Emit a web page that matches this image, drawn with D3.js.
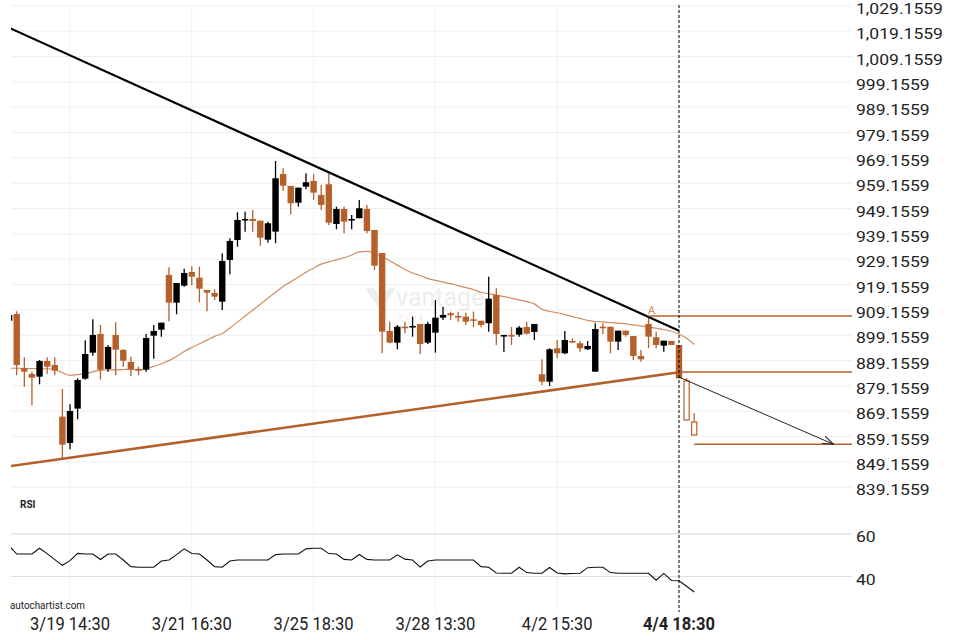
<!DOCTYPE html>
<html><head><meta charset="utf-8">
<script src="https://cdn.jsdelivr.net/npm/d3@7"></script>
<style>
body{margin:0;background:#fff}
svg{display:block;font-family:Roboto,"Liberation Sans",sans-serif}
</style>
</head><body>
<svg id="c" width="960" height="640"></svg>
<script>
// ---------- data ----------
const openVals = [904.67,907.33,885.90,883.65,882.59,888.78,887.20,866.80,856.42,869.96,881.80,892.06,899.44,885.63,899.05,893.12,888.39,885.63,885.35,898.77,901.14,922.73,911.79,918.50,923.91,921.66,916.81,915.62,912.19,928.65,936.54,944.44,944.83,944.16,936.66,939.82,962.59,957.86,951.26,957.58,959.83,954.30,958.53,942.86,948.78,944.24,945.11,948.78,940.49,931.41,900.62,896.01,902.32,902.08,903.39,896.01,899.95,905.87,907.61,906.54,906.27,905.24,904.67,903.66,914.83,898.65,899.05,899.16,902.20,900.23,883.53,880.61,893.80,891.82,896.68,895.77,893.40,884.56,902.32,902.32,896.40,900.74,898.65,890.76,903.39,898.14,894.82,896.68,895.10];
const closeVals = [906.92,887.20,884.56,882.19,888.78,886.53,884.95,855.75,869.05,881.28,891.55,899.05,885.35,894.31,893.24,888.90,885.51,884.95,897.86,900.62,903.90,911.79,919.57,923.52,922.06,917.32,915.74,914.16,928.25,936.15,944.44,944.83,944.04,937.45,943.13,960.89,957.97,951.03,957.18,959.32,955.21,950.36,943.37,948.78,943.77,944.83,949.05,940.09,926.40,900.35,896.01,902.32,901.93,902.60,895.49,903.39,905.87,906.94,906.82,906.03,904.30,904.67,902.99,913.37,899.44,899.05,898.65,901.93,899.56,903.39,880.61,893.40,891.82,897.07,896.16,893.80,894.70,901.41,901.93,896.40,900.74,899.05,890.76,889.45,898.37,895.10,896.80,895.10,881.95];
const highVals = [907.32,908.40,890.24,884.56,889.18,890.24,890.24,877.73,871.69,881.96,896.95,905.24,902.99,895.10,904.06,893.52,890.48,886.53,899.44,902.99,903.90,925.77,919.57,925.21,926.16,926.00,916.81,917.08,931.29,937.21,947.47,947.71,948.38,944.16,943.77,967.72,964.84,957.86,957.18,962.87,962.47,958.25,962.87,949.69,949.69,946.41,952.33,950.36,940.49,931.41,904.30,902.99,904.30,906.27,903.39,904.30,912.86,910.22,908.24,908.24,907.85,908.24,904.67,922.06,917.48,899.05,902.20,902.60,904.30,903.39,889.45,893.80,897.07,900.62,897.74,896.68,896.68,903.66,903.66,902.32,900.74,900.74,898.65,893.12,906.27,900.35,896.80,896.68,895.10];
const lowVals = [904.55,883.14,878.64,871.30,879.59,883.65,883.14,850.22,853.93,865.77,881.40,890.88,881.40,884.56,883.14,886.53,882.74,883.14,884.56,889.69,898.37,904.45,907.22,918.11,918.66,911.95,908.40,912.86,908.91,923.00,933.90,939.82,939.82,934.29,935.48,935.24,955.88,946.69,949.69,956.55,952.33,948.38,942.46,940.77,939.19,940.77,945.11,939.19,924.70,891.82,895.77,893.40,899.72,898.37,891.55,895.49,892.06,904.97,904.97,904.30,902.99,902.08,902.08,900.35,895.10,892.34,895.10,898.37,899.24,897.07,879.31,878.92,889.85,891.43,895.77,892.45,893.12,884.56,899.44,891.82,893.12,898.37,889.18,888.51,893.80,893.80,892.45,895.10,881.95];

// projected (hollow) candles after the last bar
const projOpen = [880.89, 864.71];
const projHigh = [882.07, 868.26];
const projLow = [865.50, 859.58];
const projClose = [865.50, 859.58];

// moving average, one value per bar (incl. projected)
const maVals = [885.9,885.9,885.8,885.8,885.7,885.7,885.3,884.2,883.1,883.4,883.7,884.5,885.2,885.3,885.3,885.4,885.5,885.3,885.6,886.6,887.7,888.9,890.5,892.5,894.1,895.6,897.0,898.5,899.6,901.8,904.1,906.5,908.8,911.2,913.5,915.9,918.2,920.0,921.9,923.8,925.4,927.0,927.9,928.7,929.5,930.6,931.8,932.0,931.2,930.0,928.3,926.6,924.9,923.5,922.5,921.3,920.6,919.9,919.3,918.5,917.7,917.0,915.9,915.3,914.8,914.2,913.5,912.9,912.2,911.3,909.2,908.4,907.8,907.1,906.3,905.6,904.8,904.3,904.2,903.9,903.7,903.4,903.0,902.6,902.2,901.7,901.2,900.5,899.4,897.7,895.3];

// RSI, one value per bar (incl. projected)
const rsiVals = [54.1,50.3,50.3,50.3,53.0,50.5,47.7,45.0,47.2,50.6,50.3,50.3,47.7,50.3,50.3,47.5,44.4,44.1,44.1,44.1,47.0,47.5,50.0,52.7,50.5,50.3,47.5,44.4,44.1,47.0,47.5,47.5,47.5,47.5,47.5,50.0,50.3,50.3,50.3,52.7,53.0,53.0,50.5,50.3,47.8,47.5,50.1,47.8,47.5,47.5,47.5,49.9,47.9,47.5,44.2,47.0,47.5,47.5,47.5,47.5,47.5,47.5,44.4,44.1,41.4,41.3,41.3,44.1,41.6,41.3,41.3,44.0,41.4,41.0,41.2,41.3,43.9,44.1,44.1,41.6,41.3,41.3,41.3,41.3,41.3,38.0,41.2,37.9,37.8,35.2,32.5];

const tickIndex = [8, 24, 40, 56, 72, 88];
const tickLabels = ["3/19 14:30", "3/21 16:30", "3/25 18:30", "3/28 13:30", "4/2 15:30", "4/4 18:30"];
const priceTicks = d3.range(20).map(k => 839.1559 + 10 * k);
const rsiTicks = [40, 60];

// pattern lines (bar index, price)
const resistance = [[0, 1020.3], [88, 900.7]];
const support = [[0, 847.2], [88, 884.3]];
const levelA = {start: 84, price: 906.5};
const levelBreak = {start: 88, price: 884.4};
const levelTarget = {start: 90, price: 855.9};
const forecast = [[88, 882.4], [108.3, 855.9]];

// ---------- layout ----------
const svg = d3.select("#c");
const plotLeft = 11, plotRight = 852;
const x = d3.scaleLinear().domain([0, 88]).range([9.1, 679]);
const y = d3.scaleLinear().domain([839.1559, 1029.1559]).range([486.7, 5.3]);
const yr = d3.scaleLinear().domain([40, 60]).range([576, 533.3]);
const ORANGE = "#b55f2a", MA = "#cf8d62";
const bodyW = 6.4;

function fit(sel, factor) {
  sel.each(function () {
    const w = this.getComputedTextLength();
    this.setAttribute("textLength", w * factor);
    this.setAttribute("lengthAdjust", "spacingAndGlyphs");
  });
}

const defs = svg.append("defs");
defs.append("clipPath").attr("id", "clip")
  .append("rect").attr("x", plotLeft).attr("y", 0).attr("width", plotRight - plotLeft).attr("height", 500);
defs.append("clipPath").attr("id", "clip2")
  .append("rect").attr("x", plotLeft).attr("y", 500).attr("width", plotRight - plotLeft).attr("height", 110);
defs.append("marker").attr("id", "arr")
  .attr("viewBox", "0 0 12 10").attr("refX", 11).attr("refY", 5)
  .attr("markerWidth", 12).attr("markerHeight", 10).attr("markerUnits", "userSpaceOnUse")
  .attr("orient", "auto")
  .append("path").attr("d", "M0,1 L11,5 L0,9").attr("fill", "none").attr("stroke", "#222").attr("stroke-width", 1);

// vertical grid
svg.append("g").selectAll("line").data(tickIndex).join("line")
  .attr("x1", d => x(d)).attr("x2", d => x(d)).attr("y1", 5).attr("y2", 612)
  .attr("stroke", "#f1f1f1").attr("stroke-width", 1);

// horizontal price grid + right axis
const yAxis = d3.axisRight(y).tickValues(priceTicks).tickSize(-(plotRight - plotLeft))
  .tickFormat(d3.format(",.4f")).tickPadding(4);
const ga = svg.append("g").attr("transform", `translate(${plotRight},0)`).call(yAxis);
ga.select(".domain").remove();
ga.selectAll(".tick line").attr("stroke", "#efefef");
ga.selectAll(".tick text").attr("font-size", 15).attr("fill", "#222").attr("x", 4).attr("y", 2.5).attr("dy", "0.38em")
  .attr("font-family", "Roboto");
fit(ga.selectAll(".tick text"), 1.17);

// RSI grid + axis
const rAxis = d3.axisRight(yr).tickValues(rsiTicks).tickSize(-(plotRight - plotLeft)).tickPadding(4);
const gr = svg.append("g").attr("transform", `translate(${plotRight},0)`).call(rAxis);
gr.select(".domain").remove();
gr.selectAll(".tick line").attr("stroke", "#dedede").attr("stroke-width", 1.2);
gr.selectAll(".tick text").attr("font-size", 15).attr("fill", "#222").attr("x", 4).attr("y", 2.5).attr("dy", "0.38em")
  .attr("font-family", "Roboto");
fit(gr.selectAll(".tick text"), 1.17);

// watermark
const wm = svg.append("g").attr("opacity", 0.55);
wm.append("path").attr("d", "M365,288 L374,288 L381,300 L388,288 L396,288 L383,307 L378,307 Z").attr("fill", "#dfe3e2");
wm.append("text").attr("x", 396).attr("y", 306).attr("font-size", 25).attr("fill", "#dde1e0")
  .attr("font-family", "Roboto").text("vantage");
wm.append("text").attr("x", 399).attr("y", 320).attr("font-size", 7.5).attr("fill", "#f0cfb8")
  .attr("letter-spacing", 2).attr("font-family", "Roboto").text("PLUS");

const plot = svg.append("g").attr("clip-path", "url(#clip)");

// MA line
plot.append("path").datum(maVals)
  .attr("d", d3.line().x((d, i) => x(i)).y(d => y(d)).curve(d3.curveMonotoneX))
  .attr("fill", "none").attr("stroke", MA).attr("stroke-width", 1.2);

// candles
const idx = d3.range(openVals.length);
const cg = plot.append("g");
cg.selectAll("line.w").data(idx).join("line").attr("class", "w")
  .attr("x1", i => x(i)).attr("x2", i => x(i))
  .attr("y1", i => y(highVals[i])).attr("y2", i => y(lowVals[i]))
  .attr("stroke", i => closeVals[i] >= openVals[i] ? "#000" : ORANGE).attr("stroke-width", 1.3);
cg.selectAll("rect.b").data(idx).join("rect").attr("class", "b")
  .attr("x", i => x(i) - bodyW / 2).attr("width", bodyW)
  .attr("y", i => y(Math.max(openVals[i], closeVals[i])))
  .attr("height", i => Math.max(1.6, Math.abs(y(openVals[i]) - y(closeVals[i]))))
  .attr("fill", i => closeVals[i] >= openVals[i] ? "#000" : ORANGE);

// projected hollow candles
const pidx = [0, 1];
const pg = plot.append("g");
pg.selectAll("line").data(pidx).join("line")
  .attr("x1", k => x(89 + k)).attr("x2", k => x(89 + k))
  .attr("y1", k => y(projHigh[k])).attr("y2", k => y(Math.max(projOpen[k], projClose[k])))
  .attr("stroke", ORANGE).attr("stroke-width", 1.2);
pg.selectAll("rect").data(pidx).join("rect")
  .attr("x", k => x(89 + k) - 2.6).attr("width", 5.2)
  .attr("y", k => y(Math.max(projOpen[k], projClose[k])))
  .attr("height", k => Math.abs(y(projOpen[k]) - y(projClose[k])))
  .attr("fill", "#fff").attr("stroke", ORANGE).attr("stroke-width", 1.2);

// trend lines
const tl = d3.line().x(d => x(d[0])).y(d => y(d[1]));
plot.append("path").datum(support).attr("d", tl).attr("stroke", ORANGE).attr("stroke-width", 2.6).attr("fill", "none");
plot.append("path").datum(resistance).attr("d", tl).attr("stroke", "#000").attr("stroke-width", 2.2).attr("fill", "none");

// level lines
[levelA, levelBreak, levelTarget].forEach(l => {
  svg.append("line").attr("x1", x(l.start)).attr("x2", plotRight)
    .attr("y1", y(l.price)).attr("y2", y(l.price))
    .attr("stroke", ORANGE).attr("stroke-width", 1.4);
});
svg.append("text").attr("x", x(levelA.start) + 3).attr("y", y(levelA.price) - 2.5)
  .attr("text-anchor", "middle").attr("font-size", 11).attr("fill", "#c98a63").text("A");

// forecast arrow
svg.append("path").datum(forecast).attr("d", tl)
  .attr("stroke", "#222").attr("stroke-width", 1).attr("fill", "none").attr("marker-end", "url(#arr)");

// RSI line
svg.append("path").datum(rsiVals)
  .attr("d", d3.line().x((d, i) => x(i)).y(d => yr(d)))
  .attr("fill", "none").attr("stroke", "#111").attr("stroke-width", 1.1)
  .attr("clip-path", "url(#clip2)");

// current-bar dashed line
svg.append("line").attr("x1", x(88)).attr("x2", x(88)).attr("y1", 5).attr("y2", 612)
  .attr("stroke", "#000").attr("stroke-width", 1).attr("stroke-dasharray", "3,2");

// labels
svg.append("text").attr("x", 20).attr("y", 508).attr("font-size", 10).attr("font-weight", "bold")
  .attr("fill", "#222").text("RSI");
svg.append("text").attr("x", 10).attr("y", 609).attr("font-size", 11.5).attr("fill", "#222")
  .attr("textLength", 75).attr("lengthAdjust", "spacingAndGlyphs").text("autochartist.com");

// x axis
const xt = svg.append("g").selectAll("text").data(tickIndex).join("text")
  .attr("x", d => x(d)).attr("y", 630).attr("text-anchor", "middle")
  .attr("font-size", 19).attr("fill", "#222")
  .attr("font-weight", (d, i) => i === tickIndex.length - 1 ? "bold" : "normal")
  .text((d, i) => tickLabels[i]);
fit(xt, 0.87);
</script>
</body></html>
